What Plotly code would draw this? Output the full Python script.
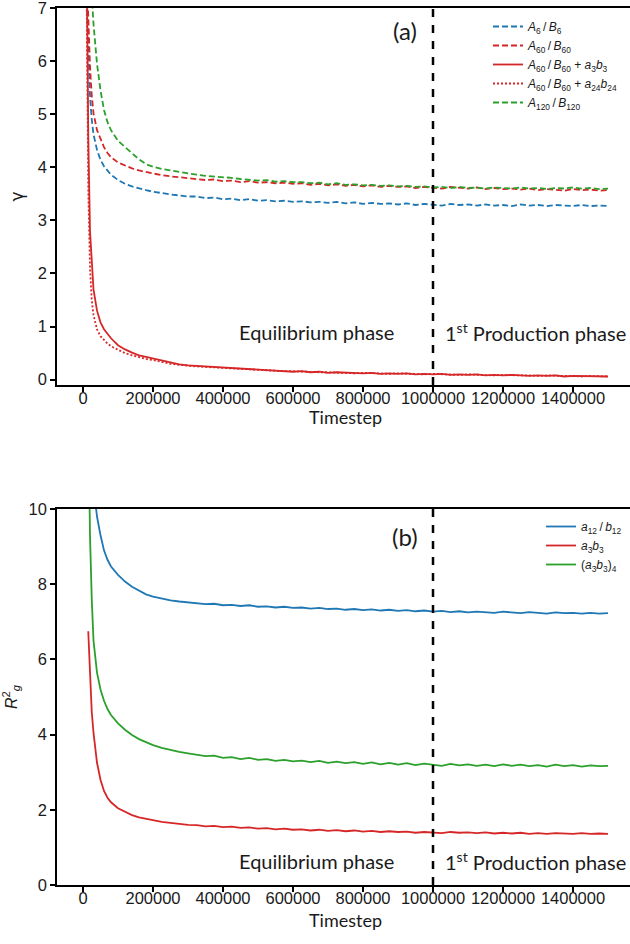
import plotly.graph_objects as go

# ---------------- data ----------------
timestep = [10000, 15000, 20000, 25000, 30000, 40000, 50000, 60000, 70000, 80000,
            100000, 120000, 140000, 160000, 180000, 200000, 225000, 250000, 275000, 300000,
            325000, 350000, 375000, 400000, 425000, 450000, 475000, 500000, 525000, 550000, 575000, 600000,
            625000, 650000, 675000, 700000, 725000, 750000, 775000, 800000, 825000, 850000, 875000, 900000,
            925000, 950000, 975000, 1000000, 1025000, 1050000, 1075000, 1100000, 1125000, 1150000, 1175000, 1200000,
            1225000, 1250000, 1275000, 1300000, 1325000, 1350000, 1375000, 1400000, 1425000, 1450000, 1475000, 1500000]

# panel (a): gamma
gamma_A6_B6 = [7.3, 6.1, 5.35, 4.9, 4.62, 4.33, 4.14, 4.02, 3.93, 3.86,
               3.76, 3.69, 3.64, 3.60, 3.57, 3.54, 3.51, 3.49, 3.47, 3.45,
               3.45, 3.42, 3.43, 3.40, 3.41, 3.38, 3.40, 3.37, 3.38, 3.36, 3.37, 3.35,
               3.36, 3.34, 3.35, 3.33, 3.35, 3.32, 3.34, 3.31, 3.33, 3.31, 3.32, 3.30,
               3.32, 3.29, 3.31, 3.30, 3.28, 3.31, 3.29, 3.30, 3.28, 3.30, 3.28, 3.29,
               3.27, 3.30, 3.28, 3.29, 3.27, 3.29, 3.28, 3.27, 3.29, 3.27, 3.28, 3.27]
gamma_A60_B60 = [7.8, 6.6, 5.9, 5.35, 5.02, 4.7, 4.52, 4.38, 4.27, 4.19,
                 4.09, 4.03, 3.98, 3.94, 3.91, 3.88, 3.85, 3.83, 3.81, 3.79,
                 3.78, 3.76, 3.77, 3.74, 3.75, 3.72, 3.74, 3.71, 3.72, 3.70, 3.71, 3.69,
                 3.70, 3.67, 3.69, 3.66, 3.68, 3.65, 3.67, 3.64, 3.66, 3.63, 3.65, 3.63,
                 3.64, 3.61, 3.63, 3.62, 3.60, 3.63, 3.61, 3.60, 3.62, 3.59, 3.61, 3.59,
                 3.60, 3.58, 3.60, 3.57, 3.59, 3.58, 3.56, 3.59, 3.57, 3.58, 3.56, 3.57]
gamma_A60_B60_a3b3 = [8.5, 4.6, 2.8, 2.1, 1.7, 1.3, 1.08, 0.95, 0.86, 0.78,
                      0.65, 0.57, 0.51, 0.46, 0.43, 0.40, 0.36, 0.32, 0.29, 0.27,
                      0.26, 0.24, 0.24, 0.22, 0.21, 0.20, 0.19, 0.18, 0.18, 0.17, 0.16, 0.15,
                      0.16, 0.14, 0.15, 0.13, 0.14, 0.13, 0.13, 0.12, 0.13, 0.11, 0.12, 0.11,
                      0.12, 0.10, 0.11, 0.10, 0.11, 0.09, 0.10, 0.09, 0.10, 0.08, 0.09, 0.08,
                      0.09, 0.08, 0.07, 0.08, 0.07, 0.08, 0.06, 0.07, 0.07, 0.06, 0.07, 0.06]
gamma_A60_B60_a24b24 = [7.5, 3.6, 2.1, 1.5, 1.22, 0.95, 0.82, 0.74, 0.68, 0.63,
                        0.56, 0.50, 0.46, 0.42, 0.39, 0.37, 0.33, 0.30, 0.28, 0.26,
                        0.25, 0.24, 0.23, 0.22, 0.21, 0.21, 0.19, 0.19, 0.17, 0.17, 0.16, 0.16,
                        0.15, 0.15, 0.14, 0.14, 0.13, 0.13, 0.12, 0.13, 0.12, 0.12, 0.11, 0.12,
                        0.11, 0.11, 0.10, 0.11, 0.10, 0.10, 0.09, 0.10, 0.09, 0.09, 0.08, 0.09,
                        0.08, 0.08, 0.08, 0.07, 0.08, 0.07, 0.07, 0.07, 0.06, 0.07, 0.06, 0.06]
gamma_A120_B120 = [11.0, 9.2, 8.0, 7.25, 6.7, 5.95, 5.45, 5.08, 4.85, 4.7,
                   4.5, 4.38, 4.26, 4.15, 4.06, 4.01, 3.97, 3.94, 3.91, 3.88,
                   3.86, 3.84, 3.83, 3.81, 3.80, 3.78, 3.77, 3.75, 3.76, 3.73, 3.74, 3.72,
                   3.72, 3.70, 3.71, 3.68, 3.70, 3.67, 3.68, 3.66, 3.67, 3.65, 3.66, 3.64,
                   3.65, 3.63, 3.64, 3.62, 3.63, 3.61, 3.63, 3.61, 3.62, 3.60, 3.62, 3.61,
                   3.60, 3.62, 3.60, 3.61, 3.59, 3.61, 3.60, 3.62, 3.60, 3.61, 3.59, 3.60]

# panel (b): radius of gyration squared
rg2_a12_b12 = [14.5, 13.0, 12.0, 11.2, 10.6, 9.8, 9.3, 8.9, 8.65, 8.47,
               8.25, 8.07, 7.93, 7.82, 7.73, 7.67, 7.61, 7.57, 7.54, 7.52,
               7.50, 7.47, 7.48, 7.44, 7.45, 7.42, 7.44, 7.40, 7.41, 7.38, 7.40, 7.37,
               7.38, 7.35, 7.37, 7.34, 7.35, 7.32, 7.34, 7.31, 7.33, 7.30, 7.32, 7.29,
               7.31, 7.28, 7.30, 7.27, 7.29, 7.26, 7.28, 7.25, 7.27, 7.26, 7.24, 7.27,
               7.25, 7.23, 7.26, 7.24, 7.22, 7.25, 7.23, 7.24, 7.22, 7.24, 7.22, 7.23]
rg2_a3b3 = [None, 6.75, 5.45, 4.6, 4.05, 3.25, 2.8, 2.5, 2.32, 2.2,
            2.04, 1.94, 1.86, 1.80, 1.76, 1.72, 1.68, 1.65, 1.62, 1.60,
            1.59, 1.56, 1.57, 1.54, 1.55, 1.52, 1.53, 1.50, 1.51, 1.48, 1.50, 1.47,
            1.48, 1.45, 1.47, 1.44, 1.46, 1.43, 1.45, 1.42, 1.44, 1.41, 1.43, 1.41,
            1.42, 1.39, 1.41, 1.40, 1.38, 1.41, 1.39, 1.40, 1.38, 1.40, 1.37, 1.39,
            1.37, 1.39, 1.36, 1.38, 1.36, 1.38, 1.37, 1.36, 1.38, 1.36, 1.37, 1.36]
rg2_a3b3_4 = [16.0, 12.0, 9.3, 7.6, 6.5, 5.65, 5.2, 4.9, 4.68, 4.52,
              4.3, 4.13, 3.99, 3.88, 3.79, 3.72, 3.65, 3.59, 3.54, 3.50,
              3.47, 3.43, 3.44, 3.38, 3.40, 3.35, 3.38, 3.33, 3.35, 3.30, 3.33, 3.29,
              3.31, 3.27, 3.30, 3.25, 3.28, 3.24, 3.27, 3.22, 3.26, 3.21, 3.25, 3.20,
              3.24, 3.19, 3.23, 3.20, 3.17, 3.22, 3.18, 3.21, 3.17, 3.20, 3.16, 3.21,
              3.17, 3.20, 3.16, 3.19, 3.15, 3.20, 3.16, 3.19, 3.15, 3.18, 3.16, 3.17]

production_start = 1000000
x_ticks = [0, 200000, 400000, 600000, 800000, 1000000, 1200000, 1400000]

for s in [gamma_A6_B6, gamma_A60_B60, gamma_A60_B60_a3b3, gamma_A60_B60_a24b24,
          gamma_A120_B120, rg2_a12_b12, rg2_a3b3, rg2_a3b3_4]:
    assert len(s) == len(timestep), len(s)

# ---------------- styling ----------------
BLUE, RED, GREEN = "#1f77b4", "#d62728", "#2ca02c"
TICK_FONT = dict(family="Liberation Sans, Arial, sans-serif", size=16.5, color="#1a1a1a")
TEXT_FONT = "Lato, Open Sans, sans-serif"
DASH = "6px,3px"
DOT = "2px,2px"

fig = go.Figure()

def add(y, name, color, dash, xa, ya, legend):
    fig.add_trace(go.Scatter(x=timestep, y=y, name=name, mode="lines",
                             line=dict(color=color, width=1.8, dash=dash),
                             xaxis=xa, yaxis=ya, legend=legend))

add(gamma_A6_B6, "<i>A</i><sub>6</sub>\u2009/\u2009<i>B</i><sub>6</sub>", BLUE, DASH, "x", "y", "legend")
add(gamma_A60_B60, "<i>A</i><sub>60</sub>\u2009/\u2009<i>B</i><sub>60</sub>", RED, DASH, "x", "y", "legend")
add(gamma_A60_B60_a3b3, "<i>A</i><sub>60</sub>\u2009/\u2009<i>B</i><sub>60</sub> + <i>a</i><sub>3</sub><i>b</i><sub>3</sub>",
    RED, "solid", "x", "y", "legend")
add(gamma_A60_B60_a24b24, "<i>A</i><sub>60</sub>\u2009/\u2009<i>B</i><sub>60</sub> + <i>a</i><sub>24</sub><i>b</i><sub>24</sub>",
    RED, DOT, "x", "y", "legend")
add(gamma_A120_B120, "<i>A</i><sub>120</sub>\u2009/\u2009<i>B</i><sub>120</sub>", GREEN, DASH, "x", "y", "legend")

add(rg2_a12_b12, "<i>a</i><sub>12</sub>\u2009/\u2009<i>b</i><sub>12</sub>", BLUE, "solid", "x2", "y2", "legend2")
add(rg2_a3b3, "<i>a</i><sub>3</sub><i>b</i><sub>3</sub>", RED, "solid", "x2", "y2", "legend2")
add(rg2_a3b3_4, "(<i>a</i><sub>3</sub><i>b</i><sub>3</sub>)<sub>4</sub>", GREEN, "solid", "x2", "y2", "legend2")

W, H = 630, 944
ML, MR, MT, MB = 57, 0, 8, 59
ph = H - MT - MB

def py(pix):  # pixel row -> paper y
    return (H - MB - pix) / ph

def px(pix):
    return (pix - ML) / (W - ML - MR)

x_range = [-74286, 1562857]
common_x = dict(range=x_range, tickmode="array", tickvals=x_ticks,
                ticktext=[str(v) for v in x_ticks], ticks="outside", ticklen=5, tickwidth=1.5,
                tickcolor="black", showline=True, linecolor="black", linewidth=1.5, mirror=True,
                showgrid=False, zeroline=False, tickfont=TICK_FONT, ticklabelstandoff=-8,
                ticklabeloverflow="allow")
common_y = dict(ticks="outside", ticklen=5, tickwidth=1.5, tickcolor="black", showline=True,
                linecolor="black", linewidth=1.5, mirror=False, showgrid=False, zeroline=False,
                tickfont=TICK_FONT, ticklabeloverflow="allow")

fig.update_layout(
    width=W, height=H, margin=dict(l=ML, r=MR, t=MT, b=MB),
    paper_bgcolor="white", plot_bgcolor="white",
    xaxis=dict(domain=[0, 1], anchor="y", **common_x),
    yaxis=dict(domain=[py(385), 1], anchor="x", range=[-0.1, 7.0001], dtick=1, tick0=0,
               title=dict(text="γ", font=dict(family="DejaVu Sans, sans-serif", size=17, color="#1a1a1a"), standoff=10),
               **common_y),
    xaxis2=dict(domain=[0, 1], anchor="y2", **common_x),
    yaxis2=dict(domain=[0, py(509)], anchor="x2", range=[0, 10.0001], dtick=2, tick0=0,
                title=dict(text="<i>R</i><sup>2</sup><sub><i>g</i></sub>",
                           font=dict(family="Liberation Sans, sans-serif", size=16, color="#1a1a1a"), standoff=10),
                **common_y),
    legend=dict(x=px(488), y=py(12), xanchor="left", yanchor="top", bgcolor="rgba(0,0,0,0)",
                font=dict(family="Liberation Sans, sans-serif", size=12, color="#1a1a1a"),
                itemwidth=30, tracegroupgap=0),
    legend2=dict(x=px(541), y=py(512), xanchor="left", yanchor="top", bgcolor="rgba(0,0,0,0)",
                 font=dict(family="Liberation Sans, sans-serif", size=12, color="#1a1a1a"),
                 itemwidth=30, tracegroupgap=0),
    showlegend=True,
)

# vertical dashed line at the start of the production phase
for xr, yr in [("x", "y domain"), ("x2", "y2 domain")]:
    fig.add_shape(type="line", xref=xr, yref=yr, x0=production_start, x1=production_start, y0=0, y1=1,
                  line=dict(color="black", width=2.5, dash="8px,8px"))

# x-axis titles placed as text below each panel
for ypix in [417, 920]:
    fig.add_annotation(text="Timestep", xref="paper", yref="paper", x=px(345), y=py(ypix),
                       xanchor="center", yanchor="middle", showarrow=False,
                       font=dict(family=TEXT_FONT, size=18, color="#1a1a1a"))

ann_font = dict(family=TEXT_FONT, size=20, color="#1a1a1a")
for label, ypix in [("(a)", 31), ("(b)", 537)]:
    fig.add_annotation(text=label, xref="paper", yref="paper", x=px(405), y=py(ypix),
                       xanchor="center", yanchor="middle",
                       showarrow=False, font=dict(family=TEXT_FONT, size=24, color="#1a1a1a"))
for ypix in [332, 861]:
    fig.add_annotation(text="Equilibrium phase", xref="paper", yref="paper", x=px(316), y=py(ypix),
                       xanchor="center", yanchor="middle", showarrow=False, font=ann_font)
    fig.add_annotation(text="1<sup>st</sup> Production phase", xref="paper", yref="paper", x=px(535), y=py(ypix),
                       xanchor="center", yanchor="middle", showarrow=False, font=ann_font)

fig.write_html("out.html")
